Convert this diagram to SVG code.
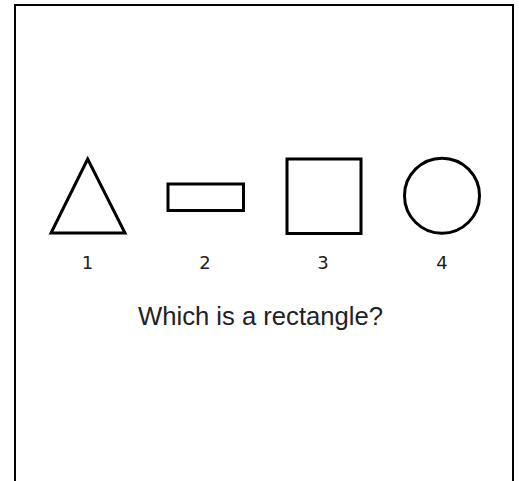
<svg xmlns="http://www.w3.org/2000/svg" width="519" height="481" viewBox="0 0 519 481">
<style>
.sh{fill:#fff;stroke:#000;stroke-width:3}
.num{font-family:"DejaVu Sans",sans-serif;font-size:18px;fill:#222;text-anchor:middle}
.q{font-family:"Liberation Sans",Arial,sans-serif;font-size:26px;fill:#222}
</style>
<rect x="0" y="0" width="519" height="481" fill="#fff"/>
<rect id="frame" x="15" y="5" width="498" height="490" fill="none" stroke="#000" stroke-width="2"/>
<g id="connectors"/>
<g id="triangle"><polygon class="sh" points="87.7,159 51,233 125,233"/><text class="num" x="87.5" y="269">1</text></g>
<g id="rectangle"><rect class="sh" x="168" y="184" width="75.5" height="26.5"/><text class="num" x="205" y="269">2</text></g>
<g id="square"><rect class="sh" x="287" y="159" width="74" height="74.5"/><text class="num" x="323" y="269">3</text></g>
<g id="circle"><circle class="sh" cx="442" cy="195.7" r="37.5"/><text class="num" x="442" y="269">4</text></g>
<g id="question"><text class="q" x="138" y="325" textLength="245" lengthAdjust="spacingAndGlyphs">Which is a rectangle?</text></g>
</svg>
